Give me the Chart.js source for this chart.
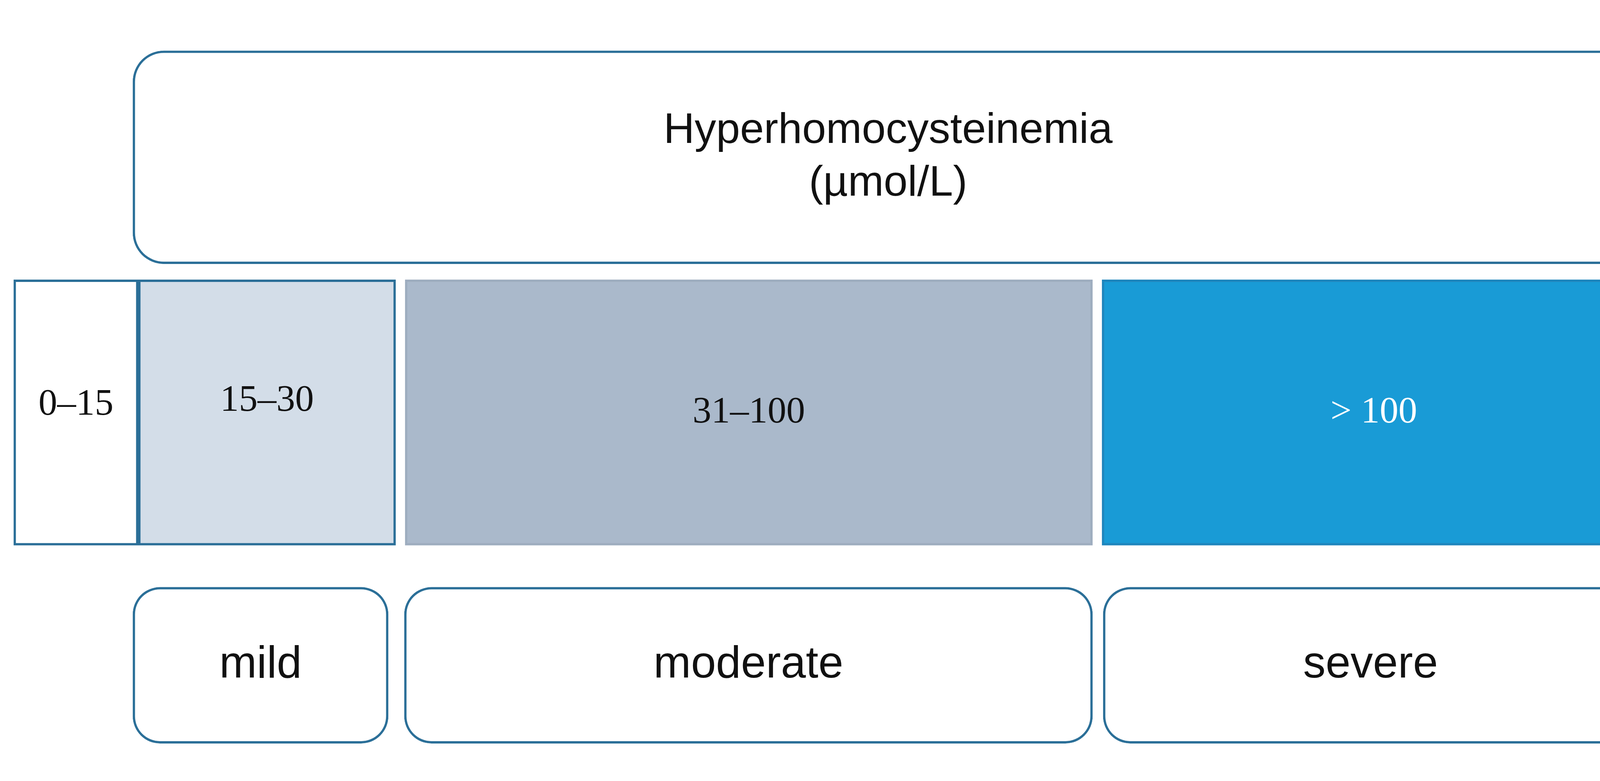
<!DOCTYPE html>
<html><head><meta charset="utf-8">
<script src="https://cdn.jsdelivr.net/npm/chart.js@4"></script>
<style>html,body{margin:0;background:#fff}#w{width:4248px;height:2000px}</style>
</head><body><div id="w"><canvas id="c"></canvas></div>
<script>
// Layout scale units (page coordinates)
const titleLabels = ["Hyperhomocysteinemia", "(µmol/L)"];
const rangeLabels = ["0–15", "15–30", "31–100", "> 100"];
const rangeSpans = [[35, 354], [354, 1013], [1037, 2797], [2821, 4213]];
const severityLabels = ["mild", "moderate", "severe"];
const severitySpans = [[340, 994], [1035, 2797], [2824, 4193]];
const titleSpan = [340, 4207];

const rangeFill = ["#ffffff", "#d3dde8", "#aab9cb", "#199bd6"];
const rangeBorder = ["#2b6f98", "#2b6f98", "#9eadbf", "#1f86bd"];
const rangeText = ["#111", "#111", "#111", "#ffffff"];
const blue = "#2b6f98";

const datasets = [];
datasets.push({data:[{x:titleSpan, y:343}], barThickness:546, backgroundColor:"#fff", borderColor:blue, borderWidth:6, borderRadius:80, borderSkipped:false, lbl:[titleLabels], font:'110px "Liberation Sans"', color:["#111"]});
rangeSpans.forEach((s,i)=>datasets.push({data:[{x:s, y:1062}], barThickness:680, backgroundColor:rangeFill[i], borderColor:rangeBorder[i], borderWidth:6, borderRadius:0, borderSkipped:false, lbl:[[rangeLabels[i]]], font:'96px "Liberation Serif"', color:[rangeText[i]], dy:i==1?-30:(i==0?-20:0)}));
severitySpans.forEach((s,i)=>datasets.push({data:[{x:s, y:1774}], barThickness:400, backgroundColor:"#fff", borderColor:blue, borderWidth:6, borderRadius:70, borderSkipped:false, lbl:[[severityLabels[i]]], font:'115px "Liberation Sans"', color:["#111"]}));
datasets.forEach(d=>d.grouped=false);

const textPlugin = {id:'txt', afterDatasetsDraw(chart){
  const ctx = chart.ctx;
  chart.data.datasets.forEach((ds,di)=>{
    chart.getDatasetMeta(di).data.forEach((el,j)=>{
      const lines = ds.lbl[j]; ctx.save();
      ctx.font = ds.font; ctx.fillStyle = ds.color[j]; ctx.textAlign='center'; ctx.textBaseline='middle';
      const lh = 135, cx = (el.x+el.base)/2, cy = el.y + (ds.dy||0);
      lines.forEach((t,k)=>ctx.fillText(t, cx, cy + (k-(lines.length-1)/2)*lh));
      ctx.restore();
    });
  });
}};

new Chart(document.getElementById('c'), {
  type:'bar', data:{datasets},
  options:{indexAxis:'y', responsive:true, maintainAspectRatio:false, animation:false,
    layout:{padding:0},
    datasets:{bar:{grouped:false}},
    plugins:{legend:{display:false}, tooltip:{enabled:false}},
    scales:{x:{type:'linear', min:0, max:4248, display:false},
            y:{type:'linear', min:0, max:2000, reverse:true, display:false}}},
  plugins:[textPlugin]
});
</script></body></html>
